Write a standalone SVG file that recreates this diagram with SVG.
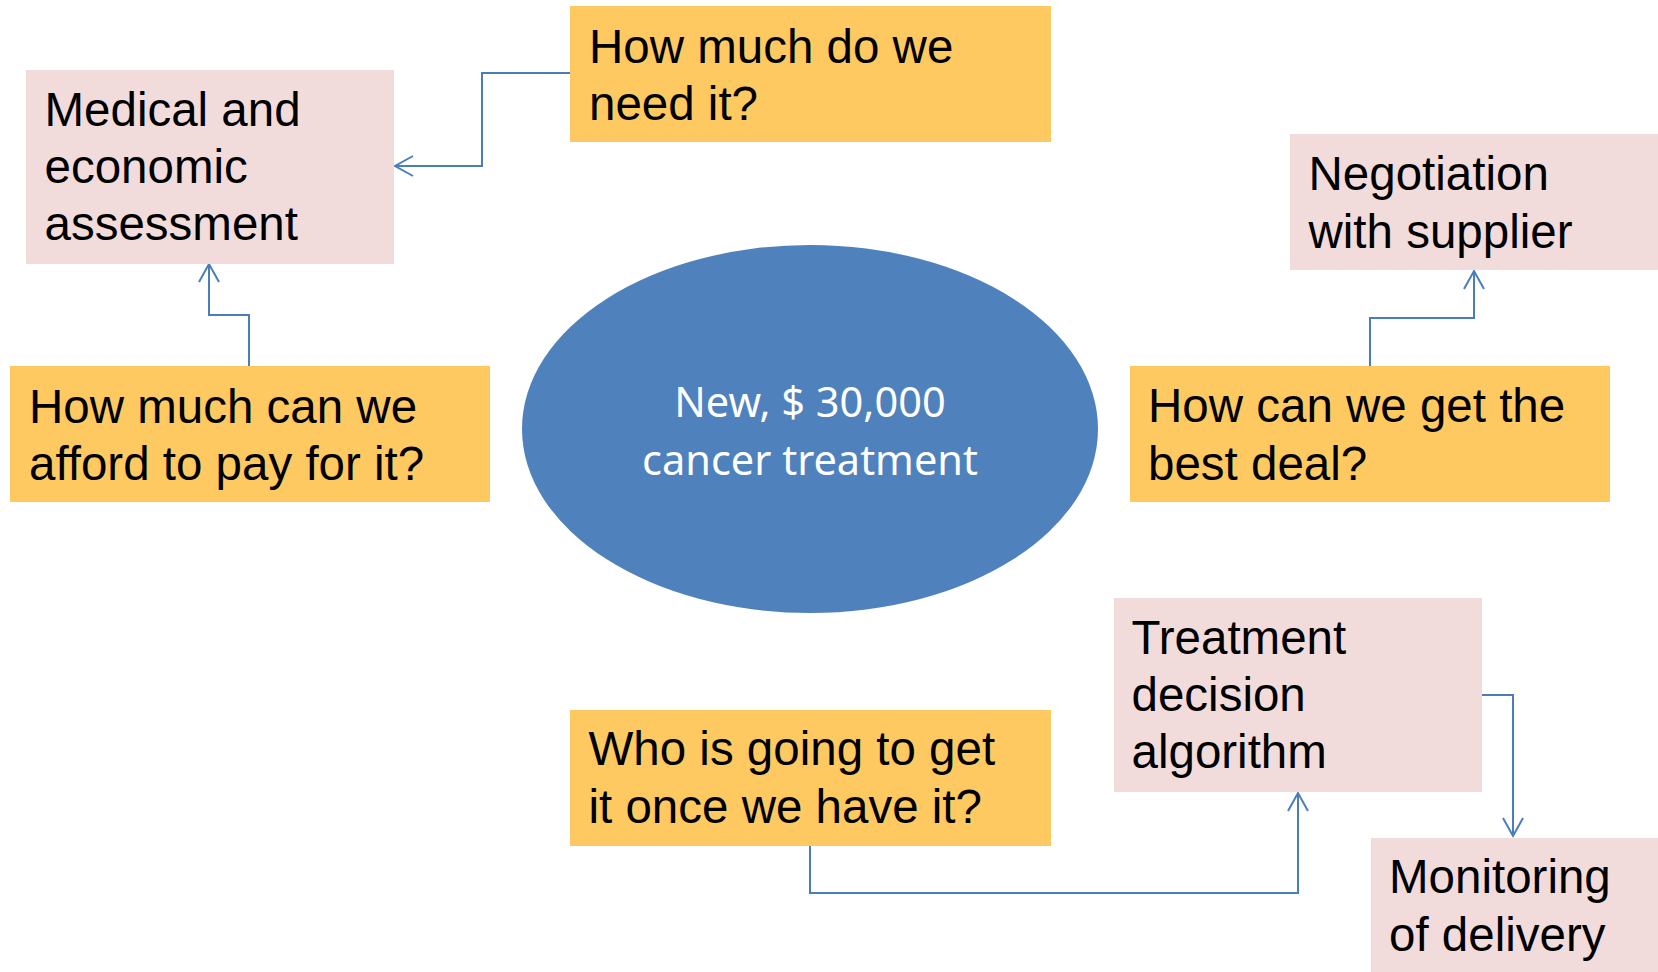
<svg xmlns="http://www.w3.org/2000/svg" width="1658" height="972" viewBox="0 0 1658 972">
<style>
.q{fill:#FFC962}
.p{fill:#F2DCDB}
.t{font-family:"Liberation Sans",Arial,sans-serif;font-size:47.5px;fill:#000}
.c{fill:none;stroke:#4A7EBB;stroke-width:2}
.e{font-family:"Noto Sans","Open Sans",sans-serif;font-size:41.5px;fill:#fff;text-anchor:middle}
</style>
<defs>
<marker id="a" markerUnits="userSpaceOnUse" markerWidth="24" markerHeight="24" refX="20" refY="12" orient="auto" viewBox="0 0 24 24">
<path d="M2 2 L20 12 L2 22" fill="none" stroke="#4A7EBB" stroke-width="2"/>
</marker>
</defs>
<rect width="1658" height="972" fill="#fff"/>
<g id="connectors">
<path class="c" d="M570 73 H482 V166 H395" marker-end="url(#a)"/>
<path class="c" d="M249 366 V315 H209 V264" marker-end="url(#a)"/>
<path class="c" d="M1370 366 V318 H1474 V271" marker-end="url(#a)"/>
<path class="c" d="M810 846 V893 H1298 V793" marker-end="url(#a)"/>
<path class="c" d="M1482 695 H1513 V836" marker-end="url(#a)"/>
</g>
<g id="center">
<ellipse cx="810" cy="429" rx="288" ry="184" fill="#4F81BD"/>
<text class="e" x="810" y="417">New, $ 30,000</text>
<text class="e" x="810" y="475">cancer treatment</text>
</g>
<g id="medical">
<rect class="p" x="26" y="70" width="368" height="194"/>
<text class="t" x="44.5" y="126">Medical and</text>
<text class="t" x="44.5" y="183">economic</text>
<text class="t" x="44.5" y="240">assessment</text>
</g>
<g id="need">
<rect class="q" x="570" y="6" width="481" height="136"/>
<text class="t" x="589" y="63">How much do we</text>
<text class="t" x="589" y="120">need it?</text>
</g>
<g id="negotiation">
<rect class="p" x="1290" y="134" width="368" height="136"/>
<text class="t" x="1308.5" y="190">Negotiation</text>
<text class="t" x="1308.5" y="248">with supplier</text>
</g>
<g id="afford">
<rect class="q" x="10" y="366" width="480" height="136"/>
<text class="t" x="29" y="423">How much can we</text>
<text class="t" x="29" y="480">afford to pay for it?</text>
</g>
<g id="deal">
<rect class="q" x="1130" y="366" width="480" height="136"/>
<text class="t" x="1148" y="422">How can we get the</text>
<text class="t" x="1148" y="480">best deal?</text>
</g>
<g id="treatment">
<rect class="p" x="1114" y="598" width="368" height="194"/>
<text class="t" x="1131.5" y="654">Treatment</text>
<text class="t" x="1131.5" y="711">decision</text>
<text class="t" x="1131.5" y="768">algorithm</text>
</g>
<g id="who">
<rect class="q" x="570" y="710" width="481" height="136"/>
<text class="t" x="588.5" y="765">Who is going to get</text>
<text class="t" x="588.5" y="823">it once we have it?</text>
</g>
<g id="monitoring">
<rect class="p" x="1371" y="838" width="287" height="134"/>
<text class="t" x="1389" y="893">Monitoring</text>
<text class="t" x="1389" y="951">of delivery</text>
</g>
</svg>
